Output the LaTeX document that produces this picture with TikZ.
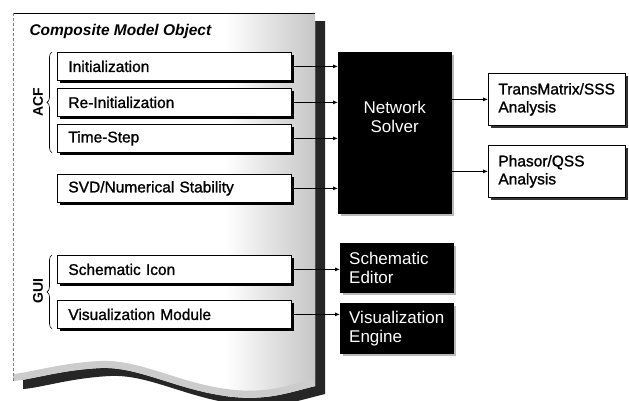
\documentclass[tikz,border=0pt]{standalone}
\usepackage{fontspec}
\setmainfont{Liberation Sans}
\newfontfamily\heavyfam[FakeBold=1.2]{Liberation Sans}
\usetikzlibrary{arrows.meta,shadows,decorations.pathreplacing,calc}
\newcommand\boxfont{\heavyfam\fontsize{15.5}{18}\selectfont}
\newcommand\whitefont{\fontsize{17}{19}\selectfont}
\begin{document}
\begin{tikzpicture}[x=1pt,y=-1pt,
  lbox/.style={draw=black, line width=0.8pt, fill=white, anchor=north west,
    minimum width=234pt, minimum height=28pt, inner xsep=11pt, inner ysep=0pt,
    text width=212pt, align=left, font=\boxfont,
    drop shadow={shadow xshift=3pt, shadow yshift=-3pt, fill=black, opacity=1}},
  rbox/.style={draw=black, line width=0.8pt, fill=white, anchor=north west,
    minimum width=137pt, minimum height=52pt, inner xsep=10pt, inner ysep=0pt,
    text width=117pt, align=left, font=\boxfont,
    drop shadow={shadow xshift=2.5pt, shadow yshift=-2.5pt, fill=black!80, opacity=1}},
  bbox/.style={draw=black, fill=black, text=white, anchor=north west,
    minimum width=113pt, inner xsep=9pt, inner ysep=0pt,
    text width=95pt, align=left, font=\whitefont,
    drop shadow={shadow xshift=3pt, shadow yshift=-3pt, fill=gray!55, opacity=1}},
  conn/.style={line width=0.8pt, -{Latex[length=5pt,width=4pt]}},
  bracestyle/.style={line width=0.6pt, decorate, decoration={brace, amplitude=5pt}},
  grouplbl/.style={font=\fontsize{14}{16}\selectfont\bfseries, rotate=90},
]
\useasboundingbox (0,0) rectangle (629,400);
\fill[white] (0,0) rectangle (629,400);

% document shadow
\fill[black!85, shift={(10,8)}] (13,13) -- (315,13) -- (315,386)
  .. controls (290,392) and (270,400) .. (235,397)
  .. controls (180,392) and (140,366) .. (100,368)
  .. controls (60,370) and (30,380) .. (13,381) -- cycle;
% document
\fill[white] (13,13) -- (315,13) -- (315,386)
  .. controls (290,392) and (270,400) .. (235,397)
  .. controls (180,392) and (140,366) .. (100,368)
  .. controls (60,370) and (30,380) .. (13,381) -- cycle;
\begin{scope}
  \clip (13,13) -- (315,13) -- (315,386)
  .. controls (290,392) and (270,400) .. (235,397)
  .. controls (180,392) and (140,366) .. (100,368)
  .. controls (60,370) and (30,380) .. (13,381) -- cycle;
  \shade[left color=white, right color=gray!45] (225,13) rectangle (316,400);
  \draw[line width=14pt, gray!40] (315,386)
  .. controls (290,392) and (270,400) .. (235,397)
  .. controls (180,392) and (140,366) .. (100,368)
  .. controls (60,370) and (30,380) .. (13,381);
\end{scope}
\draw[line width=0.8pt] (13,13) -- (315,13);
\draw[line width=0.5pt, gray, densely dashed] (13,13) -- (13,381);

\node[anchor=west, font=\fontsize{15.5}{18}\selectfont\bfseries\itshape] (title) at (26,31) {Composite Model Object};

% left boxes
\node[lbox] (init) at (57,52) {Initialization};
\node[lbox] (reinit) at (57,88) {Re-Initialization};
\node[lbox] (tstep) at (57,124) {Time-Step};
\node[lbox] (svd) at (57,174) {SVD/Numerical Stability};
\node[lbox] (icon) at (57,255) {Schematic Icon};
\node[lbox] (vmod) at (57,300) {Visualization Module};

% braces
\draw[bracestyle] ([xshift=-5pt]tstep.south west) -- ([xshift=-5pt]init.north west);
\node[grouplbl] (acf) at (38,102) {ACF};
\draw[bracestyle] ([xshift=-5pt]vmod.south west) -- ([xshift=-5pt]icon.north west);
\node[grouplbl] (gui) at (38,291) {GUI};

% right side
\node[bbox, minimum height=161pt] (solver) at (338,52) {};
\node[text=white, font=\whitefont, align=center] (solvertxt) at ($(solver.center)+(0,-16)$) {Network\\Solver};
\node[rbox] (trans) at (488,73) {TransMatrix/SSS\\Analysis};
\node[rbox] (phasor) at (488,145) {Phasor/QSS\\Analysis};
\node[bbox, minimum height=49pt] (sedit) at (340,243) {Schematic\\Editor};
\node[bbox, minimum height=50pt] (vengine) at (340,303) {Visualization\\Engine};

% connectors
\draw[conn] (init.east) -- (init.east -| solver.west);
\draw[conn] (reinit.east) -- (reinit.east -| solver.west);
\draw[conn] (tstep.east) -- (tstep.east -| solver.west);
\draw[conn] (svd.east) -- (svd.east -| solver.west);
\draw[conn] (solver.east |- trans.west) -- (trans.west);
\draw[conn] (solver.east |- phasor.west) -- (phasor.west);
\draw[conn] (icon.east) -- (icon.east -| sedit.west);
\draw[conn] (vmod.east) -- (vmod.east -| vengine.west);
\end{tikzpicture}
\end{document}
